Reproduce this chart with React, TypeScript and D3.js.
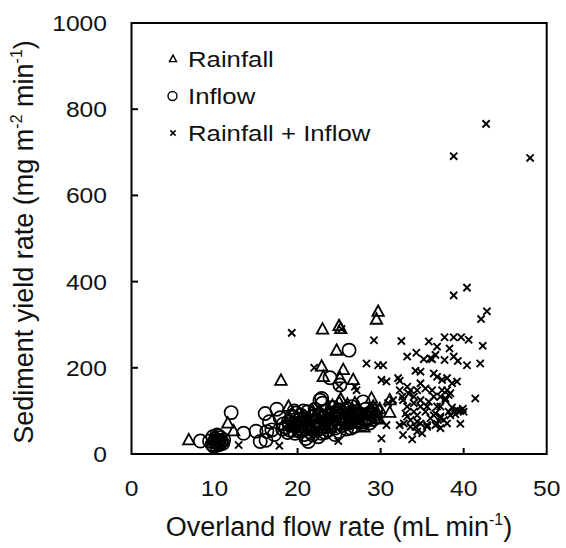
import React from "react";
import * as d3 from "d3";

const xTicks = [0, 10, 20, 30, 40, 50];
const yTicks = [0, 200, 400, 600, 800, 1000];
const legendLabels = ["Rainfall", "Inflow", "Rainfall + Inflow"];

const rainfall: [number, number][] = [
  [6.9, 32], [11.6, 71], [12.3, 53], [18.0, 170], [18.9, 110], [23.0, 289], [25.0, 297], [25.2, 290],
  [29.7, 330], [29.5, 312], [24.7, 240], [22.9, 203], [23.1, 179], [25.5, 195], [25.1, 176], [26.7, 172],
  [28.9, 129], [29.1, 110], [31.1, 125], [31.1, 96], [29.5, 83], [27.2, 78], [25.2, 127],
  [19.0, 85], [19.6, 70], [20.2, 95], [20.8, 62], [21.3, 80], [21.8, 100], [22.3, 72], [22.8, 88],
  [23.3, 66], [23.8, 95], [24.3, 78], [24.8, 105], [25.3, 84], [25.8, 70], [26.3, 96], [26.8, 82],
  [27.3, 108], [27.8, 90], [28.3, 76], [28.7, 100], [29.2, 88], [29.6, 95], [28.0, 62], [26.0, 115],
  [25.0, 120], [24.0, 60], [27.0, 72], [29.8, 80], [20.0, 50], [22.0, 55],
  [19.4, 62], [20.6, 88], [21.5, 68], [22.6, 98], [23.6, 76], [24.6, 90], [25.6, 76], [26.6, 104],
  [27.6, 70], [28.5, 92], [29.0, 100], [29.9, 104], [24.2, 112], [26.9, 118],
];

const inflow: [number, number][] = [
  [9.4, 30], [9.7, 22], [9.8, 40], [10.0, 28], [10.1, 35], [10.2, 20], [10.3, 44], [10.4, 26],
  [10.5, 32], [10.6, 22], [10.7, 38], [10.8, 28], [11.0, 25], [11.1, 33], [9.9, 18], [10.5, 42], [10.2, 30],
  [8.3, 30], [12.0, 96], [13.5, 48], [15.0, 53], [15.5, 29], [16.2, 32], [16.1, 94], [17.5, 104],
  [16.6, 75], [16.9, 56], [16.3, 52], [17.9, 84], [21.3, 29], [22.7, 125], [23.0, 118], [23.9, 177],
  [22.9, 129], [25.1, 160], [26.2, 241], [27.9, 121], [18.3, 70], [17.2, 45],
  [18.6, 62], [18.9, 75], [19.1, 55], [19.3, 88], [19.5, 68], [19.7, 48], [19.8, 95], [20.0, 60],
  [20.1, 78], [20.3, 52], [20.4, 90], [20.6, 66], [20.8, 45], [20.9, 82], [21.1, 58], [21.2, 98],
  [21.4, 72], [21.6, 50], [21.7, 86], [21.9, 64], [22.1, 104], [22.2, 76], [22.4, 56], [22.6, 92],
  [22.7, 70], [22.9, 48], [23.0, 84], [23.2, 62], [23.4, 100], [23.5, 78], [23.7, 55], [23.9, 90],
  [24.0, 68], [24.2, 108], [24.4, 82], [24.5, 60], [24.7, 95], [24.9, 74], [25.0, 52], [25.2, 88],
  [25.4, 66], [25.6, 102], [25.7, 80], [25.9, 58], [26.1, 94], [26.3, 72], [26.5, 110], [26.6, 86],
  [26.8, 64], [27.0, 98], [27.3, 78], [27.6, 92], [27.9, 70], [28.2, 104], [28.5, 84], [28.8, 96],
  [29.1, 80], [29.4, 100], [18.2, 58], [22.5, 40], [21.0, 36], [24.5, 45],
  [19.0, 70], [19.9, 82], [20.5, 56], [21.3, 64], [22.0, 88], [22.8, 60], [23.6, 70], [24.3, 96],
  [25.1, 70], [25.8, 86], [26.4, 60], [27.2, 88], [28.0, 80], [28.7, 72], [19.6, 100], [20.7, 100],
  [18.8, 50], [21.8, 44], [23.3, 50], [26.0, 104],
];

const combined: [number, number][] = [
  [42.7, 766], [38.8, 691], [48.0, 687], [40.4, 386], [38.8, 368], [42.8, 331], [42.1, 313], [19.3, 281],
  [29.2, 264], [32.5, 262], [37.7, 271], [38.8, 271], [39.7, 271], [40.6, 265], [42.3, 251], [35.8, 261],
  [36.8, 249], [38.3, 245], [33.2, 226], [34.3, 235], [35.2, 220], [36.2, 220], [37.7, 218], [38.8, 226],
  [39.3, 216], [40.4, 206], [42.0, 210], [28.3, 210], [29.7, 206], [30.3, 206], [22.0, 200], [34.2, 193],
  [34.8, 191], [36.4, 187], [36.8, 179], [38.0, 176], [37.4, 172], [39.2, 168], [38.6, 164], [38.0, 148],
  [37.4, 148], [38.4, 141], [41.4, 129], [32.1, 176], [32.3, 170], [30.1, 172], [30.7, 168],
  [27.1, 148], [26.9, 156], [25.0, 157], [25.3, 290], [36.6, 230], [36.0, 222],
  [32.3, 67], [34.2, 63], [35.6, 63], [36.8, 70], [38.0, 71], [39.6, 70], [30.7, 67], [30.1, 36],
  [24.9, 30], [32.7, 44], [33.8, 34], [12.9, 21], [17.8, 19],
  [37.2, 87], [37.6, 79], [38.2, 98], [38.8, 98], [39.2, 102], [39.6, 100], [40.0, 98], [38.6, 108],
  [39.0, 92], [39.9, 105], [38.4, 90],
  [33.0, 94], [33.6, 79], [34.4, 75], [34.0, 98], [35.4, 98], [36.4, 90], [36.8, 110], [35.8, 121],
  [34.8, 125], [34.0, 118], [33.2, 110], [32.7, 125], [32.3, 148], [33.6, 148], [34.4, 148], [33.2, 156],
  [34.8, 164], [35.4, 152], [36.2, 148], [36.4, 133], [37.2, 133], [37.8, 129], [38.2, 137],
  [34.0, 133], [34.8, 110], [35.6, 110], [37.2, 110], [37.8, 125], [36.6, 94], [36.0, 83], [37.2, 83],
  [34.4, 90], [33.2, 87], [32.8, 71], [33.6, 63], [34.8, 71], [35.6, 67], [34.4, 52], [35.0, 48],
  [36.6, 67], [37.2, 60], [32.6, 133], [31.5, 125], [30.9, 118], [33.4, 140],
  [19.0, 66], [19.8, 58], [20.5, 74], [21.2, 88], [21.8, 60], [22.5, 82], [23.1, 74], [23.6, 92],
  [24.2, 70], [24.7, 86], [25.3, 62], [25.8, 96], [26.4, 78], [26.9, 92], [27.5, 84], [28.0, 98],
  [28.6, 88], [29.2, 102], [29.7, 92],
];

const W = 566;
const H = 548;

export default function App() {
  const x = d3.scaleLinear().domain([0, 50]).range([131.5, 546.7]);
  const y = d3.scaleLinear().domain([0, 1000]).range([454, 23]);
  const font = "Liberation Sans, Arial, sans-serif";

  const tri = (cx: number, cy: number, w: number, h: number) =>
    `M${cx},${cy - (h * 0.6)}L${cx + w / 2},${cy + h * 0.4}L${cx - w / 2},${cy + h * 0.4}Z`;
  const cross = (cx: number, cy: number, s: number) =>
    `M${cx - s},${cy - s}L${cx + s},${cy + s}M${cx - s},${cy + s}L${cx + s},${cy - s}`;

  const legendY = [59, 96, 133];

  return (
    <svg width={W} height={H} style={{ position: "absolute", left: 0, top: 0, background: "#fff" }}>
      <rect x={0} y={0} width={W} height={H} fill="#fff" />
      <g fill="none" stroke="#000">
        {rainfall.map(([a, b], i) => (
          <path key={"r" + i} d={tri(x(a), y(b), 11.5, 10.5)} strokeWidth={1.8} />
        ))}
        {inflow.map(([a, b], i) => (
          <circle key={"c" + i} cx={x(a)} cy={y(b)} r={6.6} strokeWidth={1.7} />
        ))}
        {combined.map(([a, b], i) => (
          <path key={"x" + i} d={cross(x(a), y(b), 3.6)} strokeWidth={1.9} />
        ))}
      </g>
      <rect x={131.5} y={23} width={546.7 - 131.5} height={454 - 23} fill="none" stroke="#000" strokeWidth={2} />
      {xTicks.slice(1, -1).map((t) => (
        <line key={"xt" + t} x1={x(t)} x2={x(t)} y1={454} y2={448} stroke="#000" strokeWidth={2} />
      ))}
      {yTicks.slice(1, -1).map((t) => (
        <line key={"yt" + t} x1={131.5} x2={138} y1={y(t)} y2={y(t)} stroke="#000" strokeWidth={2} />
      ))}
      <g fontFamily={font} fontSize={22} fill="#111">
        {xTicks.map((t) => (
          <text key={"xl" + t} transform={`translate(${x(t)},496) scale(1.12,1)`} textAnchor="middle">
            {t}
          </text>
        ))}
        {yTicks.map((t) => (
          <text key={"yl" + t} transform={`translate(107,${y(t) + 8}) scale(1.12,1)`} textAnchor="end">
            {t}
          </text>
        ))}
      </g>
      <g fontFamily={font} fontSize={27} fill="#111">
        <text x={339} y={536} textAnchor="middle">
          Overland flow rate (mL min
          <tspan fontSize={16} dy={-11}>-1</tspan>
          <tspan dy={11}>)</tspan>
        </text>
        <text transform="translate(33,242) rotate(-90)" textAnchor="middle">
          Sediment yield rate (mg m
          <tspan fontSize={16} dy={-11}>-2</tspan>
          <tspan dy={11}> min</tspan>
          <tspan fontSize={16} dy={-11}>-1</tspan>
          <tspan dy={11}>)</tspan>
        </text>
      </g>
      <g fill="none" stroke="#000">
        <path d={tri(173, legendY[0], 7, 6.5)} strokeWidth={1.4} />
        <circle cx={172.5} cy={legendY[1]} r={4.5} strokeWidth={1.4} />
        <path d={cross(173, legendY[2], 2.6)} strokeWidth={1.5} />
      </g>
      <g fontFamily={font} fontSize={22} fill="#111">
        {legendLabels.map((l, i) => (
          <text key={l} transform={`translate(188,${legendY[i] + 7.5}) scale(1.17,1)`}>
            {l}
          </text>
        ))}
      </g>
    </svg>
  );
}
